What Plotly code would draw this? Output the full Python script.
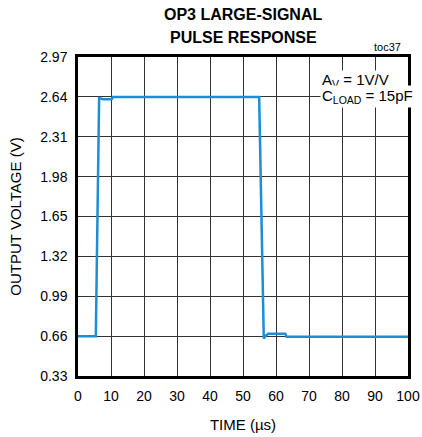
import plotly.graph_objects as go

time_us = [0, 5.4, 6.4, 6.9, 7.6, 10.2, 10.6, 54.9, 55.6, 56.3, 56.8, 57.6, 62.8, 63.2, 100]
voltage = [0.66, 0.66, 2.63, 2.625, 2.62, 2.62, 2.64, 2.64, 1.6, 0.64, 0.66, 0.68, 0.68, 0.655, 0.655]

x_ticks = [0, 10, 20, 30, 40, 50, 60, 70, 80, 90, 100]
y_ticks = [0.33, 0.66, 0.99, 1.32, 1.65, 1.98, 2.31, 2.64, 2.97]
y_labels = ["0.33", "0.66", "0.99", "1.32", "1.65", "1.98", "2.31", "2.64", "2.97"]

FONT = "Liberation Sans, Arial, sans-serif"
W, H = 422, 437
L, R, T, B = 78, 14, 57, 61

fig = go.Figure()
fig.add_trace(go.Scatter(x=time_us, y=voltage, mode="lines",
                         line=dict(color="#1b8ed6", width=2.5), hoverinfo="skip"))

fig.update_layout(
    width=W, height=H, autosize=False,
    margin=dict(l=L, r=R, t=T, b=B, autoexpand=False),
    paper_bgcolor="white", plot_bgcolor="white",
    showlegend=False,
    font=dict(family=FONT, color="black", size=14),
)
fig.update_xaxes(range=[0, 100], tickvals=x_ticks, ticktext=[str(v) for v in x_ticks],
                 showgrid=True, gridcolor="#333333", gridwidth=1,
                 showline=True, linecolor="black", linewidth=2.5, mirror=True,
                 ticks="", zeroline=False, automargin=False, ticklabelstandoff=5,
                 title=dict(text="TIME (µs)", font=dict(size=15), standoff=17),
                 tickfont=dict(size=14))
fig.update_yaxes(range=[0.33, 2.97], tickvals=y_ticks, ticktext=y_labels,
                 showgrid=True, gridcolor="#333333", gridwidth=1,
                 showline=True, linecolor="black", linewidth=2.5, mirror=True,
                 ticks="", zeroline=False, automargin=False, ticklabelstandoff=5,
                 title=dict(text="OUTPUT VOLTAGE (V)", font=dict(size=15), standoff=15),
                 tickfont=dict(size=14))

def py(page_y):
    return 1 - (page_y - T) / (H - T - B)

def px(page_x):
    return (page_x - L) / (W - L - R)

fig.add_annotation(xref="paper", yref="paper", x=px(243), y=py(14), xanchor="center", yanchor="middle",
                   text="<b>OP3 LARGE-SIGNAL</b>", showarrow=False, font=dict(size=16, family=FONT))
fig.add_annotation(xref="paper", yref="paper", x=px(243), y=py(37.5), xanchor="center", yanchor="middle",
                   text="<b>PULSE RESPONSE</b>", showarrow=False, font=dict(size=16, family=FONT))
fig.add_annotation(xref="paper", yref="paper", x=px(403), y=py(47), xanchor="right", yanchor="middle",
                   text="toc37", showarrow=False, font=dict(size=11, family=FONT))
fig.add_annotation(xref="x", yref="y", x=73.6, y=2.775, xanchor="left", yanchor="middle",
                   text="A<sub>V</sub> = 1V/V", showarrow=False, bgcolor="white",
                   font=dict(size=15, family=FONT), borderpad=0)
fig.add_annotation(xref="x", yref="y", x=73.2, y=2.64, xanchor="left", yanchor="middle",
                   text="C<sub>LOAD</sub> = 15pF", showarrow=False, bgcolor="white",
                   font=dict(size=15, family=FONT), borderpad=1)

fig.write_html("out.html",
               config={"displayModeBar": False, "responsive": False},
               post_script="document.body.style.margin='0px';document.body.style.overflow='hidden';")
